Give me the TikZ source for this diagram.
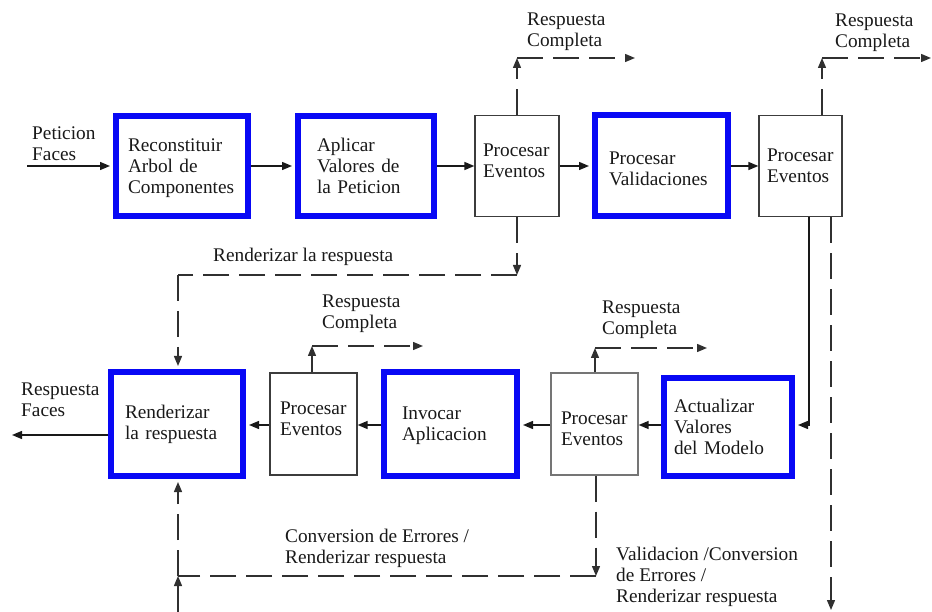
\documentclass[tikz,border=0pt]{standalone}
\usepackage{fontspec}
\setmainfont{LiberationSerif}[Extension=.ttf, UprightFont=*-Regular, BoldFont=*-Bold]
\usetikzlibrary{arrows.meta}
\definecolor{stageblue}{RGB}{8,8,245}
\definecolor{ink}{RGB}{25,25,25}
% two-line label shifted inside its box, keeping its natural size
\newcommand\liftlines[2]{\raisebox{#1}[\height][\depth]{\begin{tabular}{@{}l@{}}#2\end{tabular}}}
\begin{document}
\begin{tikzpicture}[x=1pt,y=-1pt,
  every node/.style={font=\fontsize{19.3}{21}\selectfont, text=ink},
  phase/.style={draw=stageblue, line width=6pt, align=left, inner ysep=0pt},
  evento/.style={draw=ink!85, line width=1.3pt, align=left, inner ysep=0pt},
  boxsize/.style n args={3}{minimum height=#1, inner xsep=#2, text width=#3},
  lbl/.style={inner sep=0pt, anchor=west, align=left},
  tip/.style={-{Triangle[length=10pt,width=8pt]}},
  flow/.style={draw=ink, line width=1.4pt},
  alt/.style={draw=ink!90, line width=1.4pt, dash pattern=on 26pt off 10pt},
  toblue/.style={shorten >=3pt},
]
\useasboundingbox (0,0) rectangle (932,612);
\fill[white] (0,0) rectangle (932,612);

% ---- upper row of phases
\node[phase, boxsize={100}{12}{108}] (rec) at (182,166) {\liftlines{-2pt}{Reconstituir\\Arbol de\\Componentes}};
\node[phase, boxsize={100}{19}{98}]  (apl) at (366,166) {\liftlines{-2pt}{Aplicar\\Valores de\\la Peticion}};
\node[evento, boxsize={101}{8}{68}]  (pe1) at (517,166) {\liftlines{3pt}{Procesar\\Eventos}};
\node[phase, boxsize={101}{14}{105}] (val) at (661.5,166) {\liftlines{-5pt}{Procesar\\Validaciones}};
\node[evento, boxsize={101}{8}{67}]  (pe2) at (800.5,166) {Procesar\\Eventos};

% ---- lower row of phases
\node[phase, boxsize={104}{14}{104}] (rend) at (177,424) {Renderizar\\la respuesta};
\node[evento, boxsize={102}{10}{67}] (pe3) at (313.5,424) {\liftlines{3pt}{Procesar\\Eventos}};
\node[phase, boxsize={104}{18}{97}]  (inv) at (450.5,424) {\liftlines{-2pt}{Invocar\\Aplicacion}};
\node[evento, draw=ink!60, boxsize={102}{10}{67}] (pe4) at (594.5,424) {\liftlines{-7pt}{Procesar\\Eventos}};
\node[phase, boxsize={98}{10}{108}]  (act) at (728,427) {Actualizar\\Valores\\del Modelo};

% ---- free labels
\node[lbl] (tin)  at (32,144)  {Peticion\\Faces};
\node[lbl] (tout) at (21,400)  {Respuesta\\Faces};
\node[lbl] (trc1) at (527,32)  {Respuesta\\Completa};
\node[lbl] (trc2) at (835,33)  {Respuesta\\Completa};
\node[lbl] (trc3) at (322,313.5) {Respuesta\\Completa};
\node[lbl] (trc4) at (602,319.5) {Respuesta\\Completa};
\node[lbl] (trr)  at (213,257) {Renderizar la respuesta};
\node[lbl] (tce)  at (285,548) {Conversion de Errores /\\Renderizar respuesta};
\node[lbl] (tvc)  at (616,577) {Validacion /Conversion\\de Errores /\\Renderizar respuesta};

% ---- junction points of the connectors
\coordinate (pin)  at (27,166);
\coordinate (pout) at (12,435);
\coordinate (rc1)  at (517,58);
\coordinate (rc1e) at (635,58);
\coordinate (rc2)  at (822,58);
\coordinate (rc2e) at (931,58);
\coordinate (rc3)  at (312,346);
\coordinate (rc3e) at (423,346);
\coordinate (rc4)  at (595,348);
\coordinate (rc4e) at (707,348);
\coordinate (rr1)  at (517,275);
\coordinate (rr2)  at (178,275);
\coordinate (ud)   at (809,425);
\coordinate (vd)   at (831,217);
\coordinate (vde)  at (831,610);
\coordinate (ve1)  at (596,576);
\coordinate (ve2)  at (178,576);
\coordinate (vb)   at (178,612);

% ---- main flow
\draw[flow, tip, toblue] (pin) -- (rec.west);
\draw[flow, tip, toblue] (rec.east) -- (apl.west);
\draw[flow, tip] (apl.east) -- (pe1.west);
\draw[flow, tip, toblue] (pe1.east) -- (val.west);
\draw[flow, tip] (val.east) -- (pe2.west);
\draw[flow, tip, toblue] (pe2.south -| ud) -- (ud) -- (act.east |- ud);
\draw[flow, tip] (act.west |- ud) -- (pe4.east |- ud);
\draw[flow, tip, toblue] (pe4.west |- ud) -- (inv.east |- ud);
\draw[flow, tip] (inv.west |- ud) -- (pe3.east |- ud);
\draw[flow, tip, toblue] (pe3.west |- ud) -- (rend.east |- ud);
\draw[flow, tip] (rend.west |- pout) -- (pout);

% ---- early exits: complete response
\draw[alt, tip] (pe1.north) -- (rc1);
\draw[alt, tip] (rc1) -- (rc1e);
\draw[alt, tip] (pe2.north -| rc2) -- (rc2);
\draw[alt, tip] (rc2) -- (rc2e);
\draw[alt, tip] (pe3.north -| rc3) -- (rc3);
\draw[alt, tip] (rc3) -- (rc3e);
\draw[alt, tip] (pe4.north -| rc4) -- (rc4);
\draw[alt, tip] (rc4) -- (rc4e);

% ---- jumps to rendering
\draw[alt, tip] (pe1.south) -- (rr1);
\draw[alt] (rr1) -- (rr2);
\draw[alt, tip, toblue] (rr2) -- (rend.north -| rr2);
\draw[alt, tip] (pe2.south -| vd) -- (vde);
\draw[alt, tip] (pe4.south -| ve1) -- (ve1);
\draw[alt] (ve1) -- (ve2);
\draw[alt, tip] (vb) -- (ve2);
\draw[alt, tip, toblue] (ve2) -- (rend.south -| ve2);
\end{tikzpicture}
\end{document}
